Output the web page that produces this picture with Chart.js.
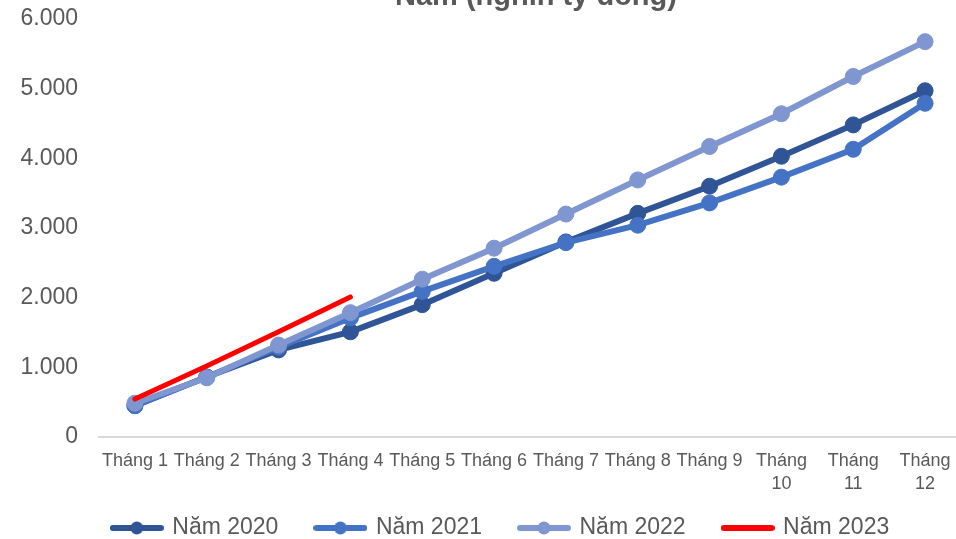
<!DOCTYPE html>
<html>
<head>
<meta charset="utf-8">
<script src="https://cdn.jsdelivr.net/npm/chart.js@4/dist/chart.umd.min.js"></script>
<style>
  html, body { margin: 0; padding: 0; background: #fff; overflow: hidden; }
  #wrap { width: 956px; height: 539px; overflow: hidden; position: relative; }
  canvas { display: block; }
</style>
</head>
<body>
<div id="wrap"><canvas id="c" width="970" height="539"></canvas></div>
<script>
const chartTitle = 'Năm (nghìn tỷ đồng)';
const categories = ['Tháng 1','Tháng 2','Tháng 3','Tháng 4','Tháng 5','Tháng 6','Tháng 7','Tháng 8','Tháng 9',['Tháng','10'],['Tháng','11'],['Tháng','12']];
const seriesNames = ['Năm 2020','Năm 2021','Năm 2022','Năm 2023'];
const y2020 = [450, 860, 1250, 1510, 1900, 2350, 2800, 3210, 3600, 4030, 4480, 4970];
const y2021 = [450, 860, 1290, 1710, 2090, 2450, 2790, 3040, 3360, 3730, 4130, 4790];
const y2022 = [485, 850, 1320, 1785, 2265, 2710, 3200, 3690, 4170, 4640, 5175, 5675];
const y2023 = [545, 1020, 1510, 2010];
const yTickLabels = ['0','1.000','2.000','3.000','4.000','5.000','6.000'];

const colors = ['#2F5597', '#4472C4', '#7F96D0', '#FF0000'];
const FONT = '"Liberation Sans", Arial, sans-serif';
const TEXT = '#595959';

function marker(color, withDot) {
  const c = document.createElement('canvas');
  c.width = 54; c.height = 16;
  const g = c.getContext('2d');
  g.strokeStyle = color; g.lineWidth = 6; g.lineCap = 'round';
  g.beginPath(); g.moveTo(3, 8); g.lineTo(51, 8); g.stroke();
  if (withDot) {
    g.fillStyle = color;
    g.beginPath(); g.arc(27, 8, 6.5, 0, Math.PI * 2); g.fill();
  }
  return c;
}
const markers = [marker(colors[0], true), marker(colors[1], true), marker(colors[2], true), marker(colors[3], false)];

const titlePlugin = {
  id: 'cutTitle',
  afterDraw(chart) {
    const ctx = chart.ctx;
    ctx.save();
    ctx.font = 'bold 29px ' + FONT;
    ctx.fillStyle = TEXT;
    ctx.textAlign = 'center';
    ctx.textBaseline = 'alphabetic';
    ctx.fillText(chartTitle, 536, 5);
    ctx.restore();
  }
};

// place the legend row like the reference (text centre at y=528, row centred near x=501)
const legendPlace = {
  id: 'legendPlace',
  afterLayout(chart) {
    const lg = chart.legend;
    if (!lg) return;
    const dy = 478.5 - lg.top;
    lg.top += dy; lg.bottom += dy;
    lg.left += 20; lg.right += 20;
  }
};

function blueSet(i, data, order) {
  return {
    label: seriesNames[i], data, order,
    borderColor: colors[i], backgroundColor: colors[i],
    pointBackgroundColor: colors[i], pointBorderColor: colors[i],
    borderWidth: 6, pointRadius: 8, pointBorderWidth: 1, pointHoverRadius: 8,
    tension: 0
  };
}

new Chart(document.getElementById('c'), {
  type: 'line',
  data: {
    labels: categories,
    datasets: [
      blueSet(0, y2020, 4),
      blueSet(1, y2021, 3),
      blueSet(2, y2022, 2),
      { label: seriesNames[3], data: y2023, order: 1, borderColor: colors[3], backgroundColor: colors[3],
        borderWidth: 5, pointRadius: 0, borderCapStyle: 'round', tension: 0 }
    ]
  },
  options: {
    responsive: false,
    animation: false,
    devicePixelRatio: 1,
    layout: { padding: { left: 0, right: 8, top: 19, bottom: -29 } },
    plugins: {
      title: { display: false },
      tooltip: { enabled: false },
      legend: {
        position: 'bottom',
        align: 'center',
        labels: {
          usePointStyle: true,
          pointStyleWidth: 48,
          boxHeight: 16,
          padding: 38,
          color: TEXT,
          font: { family: FONT, size: 23 },
          sort: (a, b) => a.datasetIndex - b.datasetIndex,
          generateLabels(chart) {
            const items = Chart.defaults.plugins.legend.labels.generateLabels(chart);
            items.forEach(it => { it.pointStyle = markers[it.datasetIndex]; });
            return items;
          }
        }
      }
    },
    scales: {
      x: {
        offset: true,
        grid: { display: false, drawTicks: false },
        border: { display: true, color: '#D9D9D9', width: 2 },
        ticks: { color: TEXT, font: { family: FONT, size: 18, lineHeight: 1.3 }, autoSkip: false, maxRotation: 0, minRotation: 0, padding: 12 },
        afterFit(s) { s.height = 60; }
      },
      y: {
        min: 0, max: 6000,
        grid: { display: false, drawTicks: true, tickLength: 21 },
        border: { display: false },
        ticks: { stepSize: 1000, color: TEXT, font: { family: FONT, size: 23 }, padding: 0,
          callback: (v, i) => yTickLabels[i] },
        afterFit(s) { s.width = 99; }
      }
    }
  },
  plugins: [titlePlugin, legendPlace]
});
</script>
</body>
</html>
